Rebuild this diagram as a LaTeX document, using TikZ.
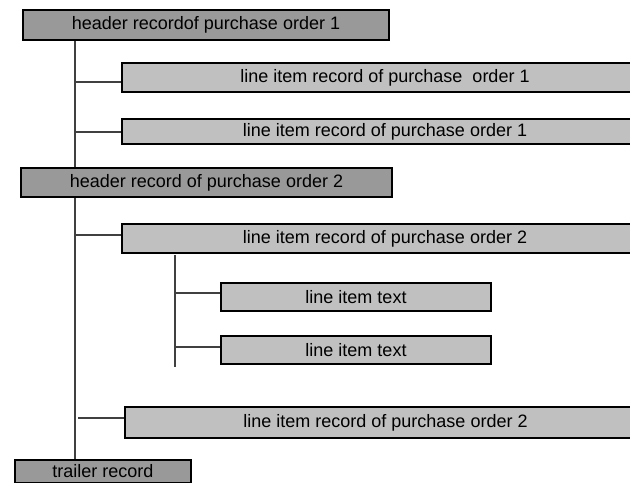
\documentclass[tikz,border=0pt]{standalone}
\usepackage{fontspec}
\setmainfont{Liberation Sans}

\tikzset{every picture/.style={line width=0.75pt}}
\tikzset{
  hdrbox/.style={draw=black, line width=1.3pt, fill={rgb, 255:red, 153; green, 153; blue, 153}, inner sep=0pt, font=\fontsize{13.5}{16}\selectfont},
  itembox/.style={draw=black, line width=1.3pt, fill={rgb, 255:red, 192; green, 192; blue, 192}, inner sep=0pt, font=\fontsize{13.5}{16}\selectfont},
  link/.style={draw={rgb, 255:red, 64; green, 64; blue, 64}, line width=1.2pt}
}

\begin{document}
\begin{tikzpicture}[x=0.75pt,y=0.75pt,yscale=-1,xscale=1]
\useasboundingbox (0,0) rectangle (630,482);

% Header and trailer records
\node [hdrbox, minimum width=274.5pt, minimum height=22.5pt] (hdr1) at (206,25) {header recordof purchase order 1};
\node [hdrbox, minimum width=278.25pt, minimum height=21.75pt] (hdr2) at (206.5,182.5) {header record of purchase order 2};
\node [hdrbox, minimum width=132pt, minimum height=17.25pt] (trl) at (103,471.5) {trailer record};

% Line item records
\node [itembox, minimum width=394.5pt, minimum height=21.75pt] (item1a) at (385,77.5) {line item record of purchase\ \ order 1};
\node [itembox, minimum width=394.5pt, minimum height=18.75pt] (item1b) at (385,131.5) {line item record of purchase order 1};
\node [itembox, minimum width=394.5pt, minimum height=21.75pt] (item2a) at (385,238.5) {line item record of purchase order 2};
\node [itembox, minimum width=390.75pt, minimum height=23.25pt] (item2b) at (385.5,422.5) {line item record of purchase order 2};

% Line item texts
\node [itembox, minimum width=202.5pt, minimum height=21pt] (txt1) at (356,297) {line item text};
\node [itembox, minimum width=202.5pt, minimum height=21pt] (txt2) at (356,350) {line item text};

% Trunks
\coordinate (trunk) at (75,0);
\coordinate (subtop) at (175,255);
\coordinate (subbot) at (175,367);
\draw [link] (hdr1.south -| trunk) -- (hdr2.north -| trunk);
\draw [link] (hdr2.south -| trunk) -- (trl.north -| trunk);
\draw [link] (subtop) -- (subbot);

% Branches
\coordinate (br1) at (75,82);
\coordinate (br2) at (75,132);
\coordinate (br3) at (75,235);
\coordinate (br4) at (78,418);
\coordinate (br5) at (175,293);
\coordinate (br6) at (175,347);
\draw [link] (br1) -- (br1 -| item1a.west);
\draw [link] (br2) -- (br2 -| item1b.west);
\draw [link] (br3) -- (br3 -| item2a.west);
\draw [link] (br4) -- (br4 -| item2b.west);
\draw [link] (br5) -- (br5 -| txt1.west);
\draw [link] (br6) -- (br6 -| txt2.west);

\end{tikzpicture}
\end{document}
